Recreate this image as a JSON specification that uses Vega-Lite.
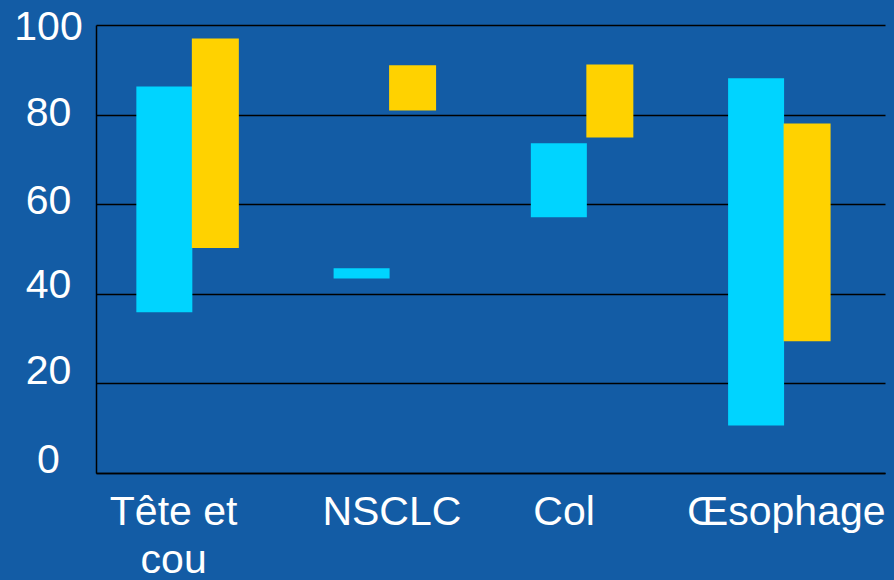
{
  "$schema": "https://vega.github.io/schema/vega-lite/v6.json",
  "width": 789,
  "height": 448,
  "autosize": "none",
  "padding": {"left": 96, "top": 25, "right": 9, "bottom": 107},
  "background": "#135ca5",
  "config": {
    "view": {"stroke": null},
    "font": "Liberation Sans",
    "axis": {"labelFont": "Liberation Sans", "labelColor": "#ffffff", "labelFontSize": 41}
  },
  "data": {
    "values": [
      {"site": "Tête et cou", "serie": "A", "bas": 35.9, "haut": 86.3},
      {"site": "Tête et cou", "serie": "B", "bas": 50.2, "haut": 97.0},
      {"site": "NSCLC", "serie": "A", "bas": 43.4, "haut": 45.7},
      {"site": "NSCLC", "serie": "B", "bas": 80.9, "haut": 91.0},
      {"site": "Col", "serie": "A", "bas": 57.1, "haut": 73.6},
      {"site": "Col", "serie": "B", "bas": 74.9, "haut": 91.2},
      {"site": "Œsophage", "serie": "A", "bas": 10.6, "haut": 88.1},
      {"site": "Œsophage", "serie": "B", "bas": 29.4, "haut": 78.0}
    ]
  },
  "mark": {"type": "bar", "opacity": 1},
  "encoding": {
    "x": {
      "field": "site",
      "type": "nominal",
      "sort": ["Tête et cou", "NSCLC", "Col", "Œsophage"],
      "scale": {"paddingInner": 0.48, "paddingOuter": 0.24},
      "axis": {
        "title": null,
        "labelAngle": 0,
        "labelLimit": 0,
        "ticks": false,
        "tickSize": 0,
        "labelPadding": 19,
        "labelLineHeight": 48,
        "labelBaseline": "top",
        "domainColor": "#000000",
        "domainWidth": 1.5,
        "labelExpr": "datum.value == 'Tête et cou' ? ['Tête et', 'cou'] : datum.label",
        "labelOffset": {
          "condition": [
            {"test": "datum.value == 'Tête et cou'", "value": -21},
            {"test": "datum.value == 'Col'", "value": -25}
          ],
          "value": 0
        }
      }
    },
    "xOffset": {
      "field": "serie",
      "type": "nominal",
      "scale": {"range": [-4.5, 97.5], "paddingInner": 0, "paddingOuter": 0}
    },
    "y": {
      "field": "bas",
      "type": "quantitative",
      "scale": {"domain": [0, 100], "nice": false},
      "axis": {
        "title": null,
        "values": [0, 20, 40, 60, 80, 100],
        "ticks": false,
        "tickSize": 0,
        "labelAlign": "center",
        "labelBaseline": "middle",
        "labelPadding": 48,
        "domainColor": "#000000",
        "domainWidth": 1.5,
        "grid": true,
        "gridColor": "#000000",
        "gridWidth": 1.6,
        "gridOpacity": 1,
        "labelOffset": {
          "condition": [
            {"test": "datum.value == 0", "value": -13},
            {"test": "datum.value == 20", "value": -12},
            {"test": "datum.value == 40", "value": -8},
            {"test": "datum.value == 60", "value": -3},
            {"test": "datum.value == 80", "value": -1},
            {"test": "datum.value == 100", "value": 2}
          ],
          "value": 0
        }
      }
    },
    "y2": {"field": "haut"},
    "size": {
      "field": "serie",
      "type": "ordinal",
      "scale": {"domain": ["A", "B"], "range": [56, 47]},
      "legend": null
    },
    "color": {
      "field": "serie",
      "type": "nominal",
      "scale": {"domain": ["A", "B"], "range": ["#00d4ff", "#ffd200"]},
      "legend": null
    }
  }
}
